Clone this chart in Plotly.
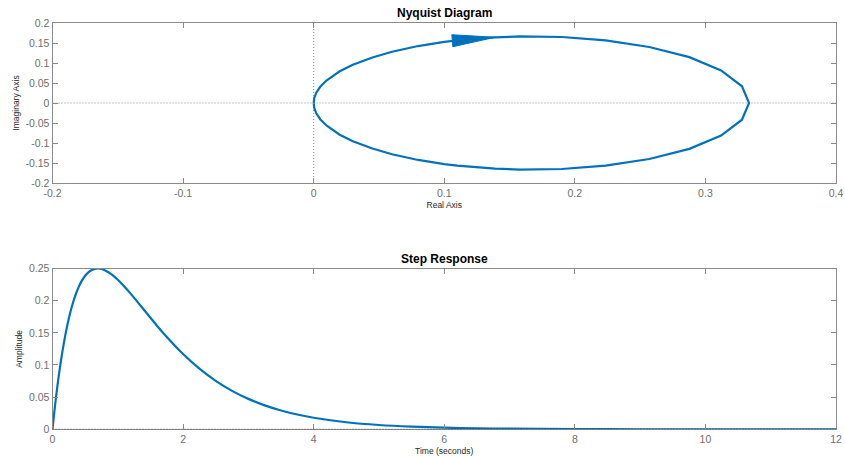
import plotly.graph_objects as go
import numpy as np

# Nyquist curve: positive-frequency path, origin -> 1/3 -> origin
nyq_real = [0.0, 0.0005, 0.002, 0.005, 0.01, 0.02, 0.03, 0.045, 0.06, 0.08, 0.10, 0.11, 0.12,
            0.139, 0.158, 0.19, 0.2236, 0.257, 0.2877, 0.312, 0.328, 0.3334,
            0.328, 0.312, 0.2877, 0.257, 0.2236, 0.19, 0.158, 0.139, 0.12, 0.11, 0.10,
            0.08, 0.06, 0.045, 0.03, 0.02, 0.01, 0.005, 0.002, 0.0005, 0.0]
nyq_imag = [0.0, 0.0129, 0.0257, 0.0405, 0.0569, 0.0792, 0.0954, 0.1139, 0.1281, 0.1424, 0.1528, 0.1567, 0.1600,
            0.1643, 0.1664, 0.1650, 0.1567, 0.1401, 0.1146, 0.0816, 0.0418, 0.0,
            -0.0418, -0.0816, -0.1146, -0.1401, -0.1567, -0.1650, -0.1664, -0.1643, -0.1600, -0.1567, -0.1528,
            -0.1424, -0.1281, -0.1139, -0.0954, -0.0792, -0.0569, -0.0405, -0.0257, -0.0129, 0.0]
arrow_base_idx = 11
arrow_tip_idx = 13

# Step response
step_t = [0, 0.025, 0.05, 0.075, 0.1, 0.15, 0.2, 0.25, 0.3, 0.35, 0.4, 0.45, 0.5, 0.55, 0.6, 0.65, 0.7,
          0.75, 0.8, 0.9, 1.0, 1.1, 1.2, 1.4, 1.6, 1.8, 2.0, 2.25, 2.5, 2.75, 3.0, 3.25, 3.5, 3.75, 4.0,
          4.5, 5.0, 5.5, 6.0, 6.5, 7.0, 8.0, 9.0, 10.0, 11.0, 12.0]
step_y = [0, 0.0241, 0.0464, 0.0670, 0.0861, 0.1199, 0.1484, 0.1723, 0.1920, 0.2081, 0.2210, 0.2311,
          0.2387, 0.2441, 0.2476, 0.2495, 0.2500, 0.2492, 0.2474, 0.2413, 0.2325, 0.2220, 0.2105,
          0.1858, 0.1611, 0.1380, 0.1170, 0.0943, 0.0754, 0.0598, 0.0473, 0.0372, 0.0293, 0.0230,
          0.0180, 0.0110, 0.0067, 0.0041, 0.0025, 0.0015, 0.0009, 0.0003, 0.0001, 0.0, 0.0, 0.0]

nyq_xticks = [-0.2, -0.1, 0, 0.1, 0.2, 0.3, 0.4]
nyq_xtext = ["-0.2", "-0.1", "0", "0.1", "0.2", "0.3", "0.4"]
nyq_yticks = [-0.2, -0.15, -0.1, -0.05, 0, 0.05, 0.1, 0.15, 0.2]
nyq_ytext = ["-0.2", "-0.15", "-0.1", "-0.05", "0", "0.05", "0.1", "0.15", "0.2"]
step_xticks = [0, 2, 4, 6, 8, 10, 12]
step_yticks = [0, 0.05, 0.1, 0.15, 0.2, 0.25]
step_ytext = ["0", "0.05", "0.1", "0.15", "0.2", "0.25"]

BLUE = "#0072BD"
FRAME = "#8a8a8a"
TICKC = "#6e6e6e"
FONT = "Liberation Sans, Arial, sans-serif"

W, H = 845, 457
xdom = [52.5 / W, 836 / W]
ydom_top = [1 - 183 / H, 1 - 23 / H]
ydom_bot = [1 - 429.3 / H, 1 - 268.5 / H]

fig = go.Figure()

fig.add_trace(go.Scatter(x=nyq_real, y=nyq_imag, mode="lines",
                         line=dict(color=BLUE, width=2.2), xaxis="x", yaxis="y",
                         hoverinfo="skip", showlegend=False))

# arrow head built from curve points (in pixel-proportional space)
sx = (xdom[1] - xdom[0]) * W / 0.6
sy = (ydom_top[1] - ydom_top[0]) * H / 0.4
bx, by = nyq_real[arrow_base_idx], nyq_imag[arrow_base_idx]
tx, ty = nyq_real[arrow_tip_idx], nyq_imag[arrow_tip_idx]
dxp, dyp = (tx - bx) * sx, (ty - by) * sy
L = np.hypot(dxp, dyp)
ux, uy = dxp / L, dyp / L
px, py = -uy, ux
back = 5.0   # extend the base backwards a bit (pixels)
hw = 6.0
bxp, byp = bx - ux * back / sx, by - uy * back / sy
ax_pts = [tx, bxp + px * hw / sx, bxp - px * hw / sx, tx]
ay_pts = [ty, byp + py * hw / sy, byp - py * hw / sy, ty]
fig.add_trace(go.Scatter(x=ax_pts, y=ay_pts, mode="lines", fill="toself",
                         fillcolor=BLUE, line=dict(color=BLUE, width=1),
                         xaxis="x", yaxis="y", hoverinfo="skip", showlegend=False))

fig.add_trace(go.Scatter(x=step_t, y=step_y, mode="lines",
                         line=dict(color=BLUE, width=2.2, shape="spline", smoothing=0.6),
                         xaxis="x2", yaxis="y2",
                         hoverinfo="skip", showlegend=False))

axis_common = dict(showline=True, linecolor=FRAME, linewidth=1, mirror="ticks",
                   ticks="inside", ticklen=5, tickcolor=FRAME, tickwidth=1,
                   showgrid=False, zeroline=False, automargin=False,
                   tickfont=dict(family=FONT, size=10.5, color=TICKC))
title_font = dict(family=FONT, size=8.5, color="#262626")

DOT = "1px,2px"

fig.update_layout(
    template="none",
    width=W, height=H, autosize=False,
    margin=dict(l=0, r=0, t=0, b=0, pad=0),
    paper_bgcolor="white", plot_bgcolor="white",
    xaxis=dict(domain=xdom, range=[-0.2, 0.4], tickvals=nyq_xticks, ticktext=nyq_xtext,
               anchor="y", title=dict(text="Real Axis", font=title_font, standoff=4), **axis_common),
    yaxis=dict(domain=ydom_top, range=[-0.2, 0.2], tickvals=nyq_yticks, ticktext=nyq_ytext,
               anchor="x", title=dict(text="Imaginary Axis", font=title_font, standoff=4), **axis_common),
    xaxis2=dict(domain=xdom, range=[0, 12], tickvals=step_xticks,
                anchor="y2", title=dict(text="Time (seconds)", font=title_font, standoff=4), **axis_common),
    yaxis2=dict(domain=ydom_bot, range=[0, 0.25], tickvals=step_yticks, ticktext=step_ytext,
                anchor="x2", title=dict(text="Amplitude", font=title_font, standoff=4), **axis_common),
    shapes=[
        dict(type="line", xref="x", yref="paper", x0=0, x1=0, y0=ydom_top[0], y1=ydom_top[1],
             line=dict(color="#8a8a8a", width=1, dash=DOT), layer="below"),
        dict(type="line", xref="paper", yref="y", x0=xdom[0], x1=xdom[1], y0=0, y1=0,
             line=dict(color="#8a8a8a", width=1, dash=DOT), layer="below"),
        dict(type="line", xref="paper", yref="y2", x0=xdom[0], x1=xdom[1], y0=0, y1=0,
             line=dict(color="#000000", width=1, dash=DOT), layer="above"),
    ],
    annotations=[
        dict(text="<b>Nyquist Diagram</b>", xref="paper", yref="paper",
             x=(xdom[0] + xdom[1]) / 2, y=ydom_top[1], yanchor="bottom", xanchor="center",
             yshift=1, showarrow=False, font=dict(family=FONT, size=12, color="#000000")),
        dict(text="<b>Step Response</b>", xref="paper", yref="paper",
             x=(xdom[0] + xdom[1]) / 2, y=ydom_bot[1], yanchor="bottom", xanchor="center",
             yshift=1, showarrow=False, font=dict(family=FONT, size=12, color="#000000")),
    ],
)

fig.write_html("out.html", config={"displayModeBar": False},
               post_script="document.body.style.margin='0px';")
